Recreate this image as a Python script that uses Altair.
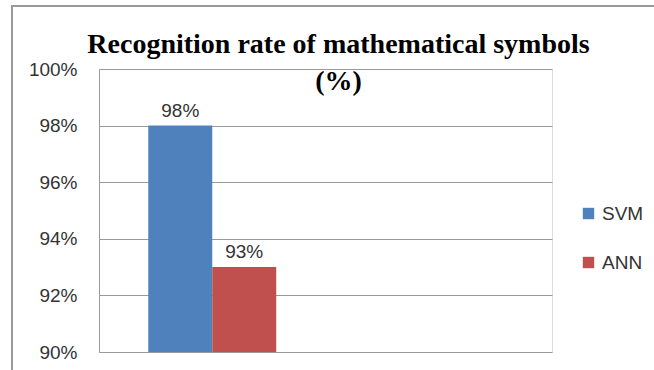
import altair as alt
import pandas as pd

# Chart data
categories = ["Mathematical symbols", ""]
series = ["SVM", "ANN"]
rates = [0.98, 0.93]
bar_colors = ["#4F81BD", "#C0504D"]
y_ticks = [0.90, 0.92, 0.94, 0.96, 0.98, 1.00]
title_lines = ["Recognition rate of mathematical symbols", "(%)"]

df = pd.DataFrame({
    "category": [categories[0]] * len(series),
    "series": series,
    "rate": rates,
})

W, H = 453, 283
LABEL_FONT = "Liberation Sans"
TEXT_COLOR = "#333333"
GRID_COLOR = "#9a9a9a"

x_enc = alt.X(
    "category:N",
    scale=alt.Scale(domain=categories, paddingInner=0.435, paddingOuter=0.2175),
    axis=None,
)
x_off = alt.XOffset(
    "series:N",
    scale=alt.Scale(domain=series, paddingInner=0, paddingOuter=0),
)
y_scale = alt.Scale(domain=[0.90, 1.00], nice=False, zero=False)

bars = alt.Chart(df).mark_bar().encode(
    x=x_enc,
    xOffset=x_off,
    y=alt.Y(
        "rate:Q",
        scale=y_scale,
        axis=alt.Axis(
            values=y_ticks,
            format=".0%",
            title=None,
            ticks=False,
            labelPadding=22,
            labelFont=LABEL_FONT,
            labelFontSize=19,
            labelColor=TEXT_COLOR,
            domainColor=GRID_COLOR,
            domainWidth=1,
            gridColor=GRID_COLOR,
            gridWidth=1,
        ),
    ),
    y2=alt.datum(0.90),
    color=alt.Color(
        "series:N",
        scale=alt.Scale(domain=series, range=bar_colors),
        legend=alt.Legend(
            title=None,
            orient="none",
            legendX=480,
            legendY=135,
            symbolType="square",
            symbolSize=130,
            symbolStrokeWidth=0,
            labelFont=LABEL_FONT,
            labelFontSize=19,
            labelColor=TEXT_COLOR,
            labelOffset=4,
            rowPadding=29,
        ),
    ),
)

labels = alt.Chart(df).mark_text(
    baseline="alphabetic",
    dy=-9,
    font=LABEL_FONT,
    fontSize=19,
    color=TEXT_COLOR,
).encode(
    x=x_enc,
    xOffset=x_off,
    y=alt.Y("rate:Q", scale=y_scale),
    text=alt.Text("rate:Q", format=".0%"),
)

# outer chart frame (left and top edges visible)
frame = alt.Chart(df).mark_rect(
    fill="transparent", stroke="#9a9a9a", strokeWidth=2
).encode(
    x=alt.value(-87), x2=alt.value(W + 300),
    y=alt.value(-63), y2=alt.value(H + 300),
)

chart = alt.layer(frame, bars, labels).properties(
    width=W,
    height=H,
    autosize=alt.AutoSizeParams(type="none"),
    padding={"left": 99, "top": 69, "right": 654 - 99 - W, "bottom": 370 - 69 - H},
    title=alt.TitleParams(
        text=title_lines,
        anchor="middle",
        frame="group",
        baseline="top",
        offset=-91,
        dx=13,
        font="Liberation Serif",
        fontSize=28,
        fontWeight="bold",
        color="#000000",
        lineHeight=37,
    ),
).configure_view(stroke=None).configure(background="white")

chart.save("out.html", embed_options={"renderer": "svg", "actions": False})
